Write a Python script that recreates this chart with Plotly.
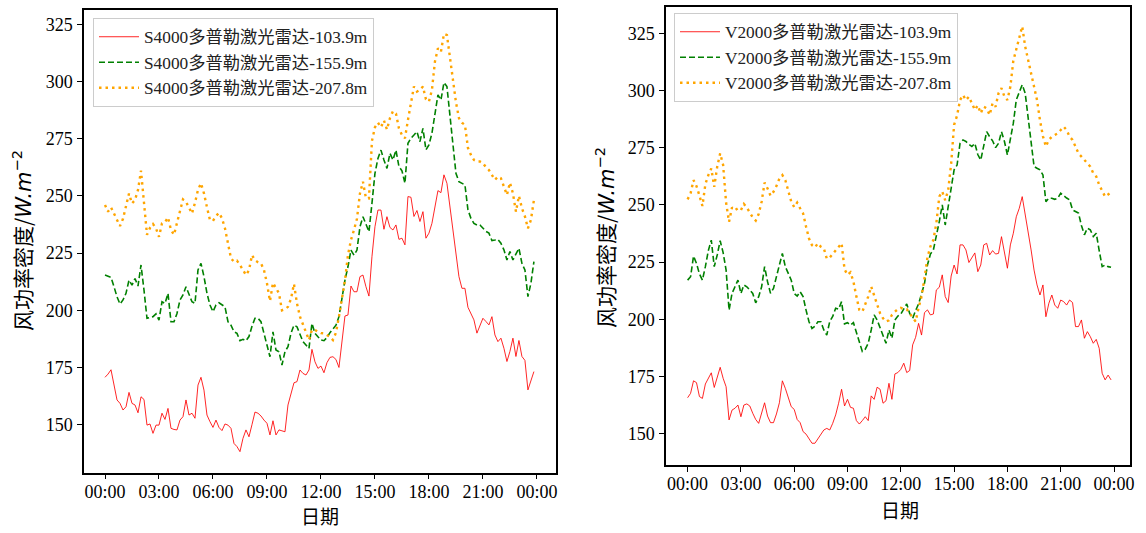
import plotly.graph_objects as go

# 10-minute samples over one day (hours)
hours = [i / 6 for i in range(144)]
tick_hours = [0, 3, 6, 9, 12, 15, 18, 21, 24]
tick_labels = ["00:00", "03:00", "06:00", "09:00", "12:00", "15:00", "18:00", "21:00", "00:00"]
y_ticks = [150, 175, 200, 225, 250, 275, 300, 325]

s4000_names = ["S4000多普勒激光雷达-103.9m", "S4000多普勒激光雷达-155.9m", "S4000多普勒激光雷达-207.8m"]
v2000_names = ["V2000多普勒激光雷达-103.9m", "V2000多普勒激光雷达-155.9m", "V2000多普勒激光雷达-207.8m"]

s4000_103 = [170.7, 172.1, 174.0, 166.6, 160.8, 159.3, 156.4, 157.8, 164.1, 159.3, 158.6, 155.2, 162.2, 161.0, 149.8, 150.3, 146.2, 149.8, 149.8, 155.0,
             152.3, 157.1, 148.4, 147.9, 147.7, 152.0, 153.5, 160.8, 154.2, 155.0, 152.8, 167.3, 170.7, 165.1, 154.2, 151.3, 148.8, 152.0, 148.8, 147.4,
             150.3, 149.8, 148.4, 141.8, 140.4, 138.2, 144.0, 147.7, 144.7, 150.0, 155.5, 155.0, 153.8, 152.0, 150.6, 145.5, 151.7, 145.5, 147.7, 147.3,
             146.9, 158.6, 164.0, 168.3, 168.8, 173.9, 172.4, 171.7, 173.9, 182.9, 177.5, 174.6, 175.6, 172.7, 177.1, 179.4, 179.7, 178.5, 175.0, 187.0,
             197.5, 197.9, 210.6, 208.1, 208.1, 214.7, 215.4, 210.3, 206.2, 223.4, 236.5, 243.8, 243.8, 235.4, 240.9, 236.2, 235.1, 237.3, 231.0, 231.5,
             228.6, 249.7, 249.4, 241.0, 243.6, 238.8, 243.1, 231.5, 233.7, 238.0, 245.3, 252.3, 251.4, 259.2, 255.5, 245.3, 235.1, 223.5, 214.7, 209.6,
             209.6, 201.3, 198.7, 195.8, 190.0, 192.9, 196.5, 195.1, 193.6, 197.2, 189.2, 186.3, 187.8, 183.4, 177.6, 182.0, 187.8, 179.8, 186.8, 179.8,
             178.1, 165.2, 169.6, 173.2]
s4000_156 = [215.4, 215.0, 214.4, 210.3, 205.9, 202.7, 204.5, 207.4, 213.2, 211.0, 213.9, 210.6, 219.8, 208.8, 196.5, 196.9, 197.2, 198.4, 195.7, 203.7,
             203.0, 207.4, 195.0, 195.0, 198.6, 204.5, 206.7, 210.3, 207.4, 203.7, 203.0, 217.6, 220.5, 214.7, 207.4, 202.3, 199.4, 202.3, 203.3, 202.3,
             201.5, 195.0, 193.5, 190.6, 189.9, 186.7, 187.3, 186.7, 188.5, 193.0, 196.5, 196.5, 195.0, 189.9, 184.1, 179.7, 190.6, 182.6, 181.9, 176.1,
             181.9, 184.1, 189.9, 193.5, 192.8, 189.9, 186.3, 184.8, 183.3, 194.3, 189.9, 188.4, 187.0, 186.7, 188.1, 190.2, 192.1, 193.5, 197.2, 205.2,
             213.2, 219.0, 226.3, 224.1, 226.3, 236.5, 240.9, 237.7, 234.3, 246.7, 259.8, 266.4, 270.0, 265.7, 262.0, 268.6, 265.7, 270.0, 262.8, 261.0,
             255.5, 273.0, 275.2, 276.6, 278.1, 273.7, 279.5, 270.1, 272.3, 277.4, 286.1, 294.1, 291.9, 299.5, 297.8, 286.1, 273.0, 259.9, 256.2, 255.5,
             254.8, 243.9, 240.2, 238.0, 237.3, 237.3, 235.8, 234.5, 233.7, 230.5, 230.7, 231.0, 229.3, 226.4, 222.0, 225.7, 222.0, 224.9, 227.1, 220.5,
             217.6, 206.0, 211.8, 221.3]
s4000_208 = [246.0, 243.1, 245.0, 242.1, 239.4, 236.8, 240.0, 246.0, 251.0, 246.7, 248.2, 252.6, 261.0, 247.0, 233.0, 236.0, 237.7, 235.8, 232.1, 238.0,
             238.5, 240.6, 235.1, 233.0, 238.0, 243.8, 248.5, 247.4, 244.5, 242.3, 247.0, 252.6, 255.5, 251.1, 245.0, 239.4, 239.1, 241.2, 242.6, 240.2,
             235.8, 229.0, 222.7, 221.2, 221.7, 219.8, 217.6, 215.4, 217.5, 224.1, 221.9, 221.0, 220.5, 217.6, 211.8, 204.0, 212.0, 209.6, 207.4, 200.0,
             200.5, 201.5, 205.0, 211.5, 203.0, 197.2, 193.5, 189.9, 187.0, 191.5, 191.4, 190.6, 190.0, 189.9, 189.2, 188.4, 187.0, 190.2, 197.2, 204.5,
             213.0, 224.1, 230.7, 235.1, 240.0, 251.1, 256.2, 249.0, 248.9, 274.0, 280.0, 282.0, 280.0, 283.0, 279.0, 284.0, 287.0, 286.0, 279.5, 276.6,
             275.2, 283.2, 290.0, 297.8, 295.6, 296.3, 297.8, 292.2, 291.2, 296.3, 308.7, 314.5, 313.0, 320.8, 320.3, 310.0, 300.7, 291.0, 284.0, 282.0,
             281.0, 271.0, 267.9, 265.7, 265.0, 265.0, 264.3, 262.5, 261.3, 259.0, 257.0, 258.4, 257.7, 254.0, 250.4, 255.8, 251.1, 243.1, 250.0, 244.6,
             241.0, 235.8, 239.5, 248.2]

v2000_103 = [165.7, 167.6, 173.1, 172.3, 166.2, 165.4, 171.7, 174.2, 176.6, 170.2, 175.2, 179.0, 174.2, 170.5, 156.0, 160.3, 161.1, 162.5, 157.4, 162.5,
             163.0, 162.1, 158.9, 156.2, 154.5, 158.9, 163.5, 157.7, 154.8, 154.8, 158.6, 163.5, 173.1, 169.8, 165.4, 161.8, 160.6, 156.2, 154.8, 150.9,
             149.8, 147.9, 145.8, 145.8, 147.9, 150.1, 151.6, 152.3, 151.6, 154.5, 158.2, 163.3, 169.4, 162.1, 165.0, 161.5, 161.1, 155.7, 154.2, 155.7,
             157.4, 155.7, 166.5, 165.0, 170.3, 169.4, 163.3, 164.4, 172.0, 165.0, 176.1, 176.7, 178.1, 180.8, 176.7, 177.6, 188.8, 192.1, 198.2, 193.1,
             202.9, 204.1, 201.9, 202.3, 212.8, 214.0, 219.4, 209.9, 207.3, 218.9, 223.7, 219.8, 232.5, 232.5, 230.3, 224.8, 227.1, 229.0, 220.8, 223.7,
             232.5, 233.2, 228.1, 230.0, 228.5, 228.8, 236.1, 229.1, 222.3, 232.5, 237.6, 244.8, 248.5, 253.6, 246.3, 239.0, 230.3, 221.5, 215.0, 210.6,
             215.0, 201.1, 207.0, 210.6, 206.2, 204.8, 208.4, 207.7, 206.2, 208.4, 207.3, 196.8, 196.8, 199.7, 191.7, 194.6, 192.4, 189.5, 191.2, 187.3,
             176.4, 173.5, 175.6, 173.5]
v2000_156 = [217.1, 218.6, 227.6, 224.4, 219.8, 217.1, 223.0, 230.0, 234.6, 223.0, 228.1, 234.3, 229.1, 221.5, 204.0, 211.3, 214.2, 217.1, 211.3, 215.0,
             214.2, 212.5, 211.3, 207.2, 209.9, 214.2, 223.0, 216.4, 211.3, 213.5, 218.6, 223.0, 228.8, 223.0, 220.1, 217.1, 211.3, 210.1, 212.0, 209.9,
             204.0, 198.9, 196.0, 197.0, 198.9, 198.9, 195.3, 193.1, 199.0, 201.2, 204.8, 204.4, 207.7, 198.0, 198.5, 197.5, 198.5, 193.9, 189.5, 185.9,
             186.9, 189.5, 195.3, 201.9, 199.7, 196.1, 192.4, 189.5, 195.3, 191.7, 199.7, 201.4, 202.3, 204.4, 206.7, 202.6, 200.4, 203.8, 206.7, 211.1,
             215.7, 223.7, 228.5, 230.3, 236.1, 242.7, 250.0, 241.2, 249.2, 258.0, 265.3, 267.4, 276.9, 278.4, 277.7, 276.5, 275.5, 276.9, 272.0, 269.6,
             275.5, 282.0, 279.8, 278.0, 275.0, 276.9, 282.0, 277.7, 271.8, 278.4, 285.7, 295.9, 299.5, 302.5, 298.8, 288.6, 278.4, 266.8, 266.0, 265.3,
             263.1, 251.4, 252.9, 252.9, 252.4, 252.9, 255.1, 253.9, 253.0, 252.2, 247.8, 247.1, 246.4, 241.0, 236.9, 239.8, 239.1, 236.2, 237.6, 230.0,
             223.0, 223.7, 223.0, 222.7]
v2000_208 = [252.4, 255.0, 260.8, 258.2, 254.0, 249.5, 259.0, 263.0, 265.9, 257.9, 266.7, 272.5, 267.4, 250.9, 242.6, 248.9, 247.7, 248.5, 247.7, 250.4,
             248.8, 246.3, 244.5, 243.1, 246.0, 251.4, 259.7, 257.2, 254.0, 255.7, 258.2, 261.5, 263.0, 260.8, 256.0, 251.4, 249.0, 251.0, 248.5, 246.3,
             240.5, 235.3, 232.4, 231.4, 233.2, 231.7, 231.0, 226.5, 227.0, 228.5, 230.3, 231.5, 233.2, 221.8, 219.4, 220.5, 216.5, 209.9, 204.1, 203.3,
             206.3, 209.9, 214.3, 210.6, 206.3, 202.6, 200.4, 199.0, 199.5, 201.9, 203.3, 204.4, 205.0, 204.4, 204.4, 202.6, 200.4, 199.0, 205.0, 209.9,
             218.0, 227.0, 231.8, 234.7, 242.0, 253.6, 255.8, 252.0, 256.5, 268.0, 285.0, 289.0, 295.8, 298.0, 295.8, 297.3, 294.4, 291.5, 293.5, 290.0,
             292.9, 292.2, 289.3, 294.4, 292.9, 298.8, 301.0, 297.3, 295.8, 301.7, 313.0, 318.0, 324.0, 328.0, 319.2, 313.3, 307.5, 301.7, 295.8, 287.0,
             280.0, 275.5, 278.4, 279.8, 280.5, 281.3, 282.7, 284.2, 282.7, 279.8, 278.4, 275.5, 272.5, 271.1, 269.6, 268.2, 266.7, 263.8, 262.4, 258.7,
             255.8, 253.6, 254.5, 255.4]

W, H = 1146, 533
styles = [
    dict(color="rgba(255,0,0,0.85)", width=1.0, dash="solid"),
    dict(color="#008000", width=1.6, dash="6px,3px"),
    dict(color="#FFA500", width=2.4, dash="2.5px,4px"),
]

fig = go.Figure()
for name, vals, st in zip(s4000_names, [s4000_103, s4000_156, s4000_208], styles):
    fig.add_trace(go.Scatter(x=hours, y=vals, mode="lines", name=name, line=st,
                             xaxis="x", yaxis="y", legend="legend"))
for name, vals, st in zip(v2000_names, [v2000_103, v2000_156, v2000_208], styles):
    fig.add_trace(go.Scatter(x=hours, y=vals, mode="lines", name=name, line=st,
                             xaxis="x2", yaxis="y2", legend="legend2"))

tickfont = dict(family="Liberation Serif, Times New Roman, serif", size=18, color="black")
common = dict(showline=True, linecolor="black", linewidth=1.5, mirror=True, showgrid=False,
              zeroline=False, ticks="outside", ticklen=5, tickwidth=1.2, tickcolor="black",
              tickfont=tickfont, automargin=False)

legend_font = dict(family="Liberation Serif, Noto Sans CJK SC", size=17.3, color="#222")
fig.update_layout(
    width=W, height=H,
    margin=dict(l=0, r=0, t=0, b=0, pad=0, autoexpand=False),
    paper_bgcolor="white", plot_bgcolor="white",
    showlegend=True,
    xaxis=dict(domain=[84 / W, 556 / W], range=[-1.167, 25.06], tickvals=tick_hours, ticktext=tick_labels,
               anchor="y", ticklabelstandoff=-3, **common),
    yaxis=dict(domain=[(H - 472.7) / H, (H - 10) / H], range=[129.0, 331.25], tickvals=y_ticks,
               anchor="x", ticklabelstandoff=1, **common),
    xaxis2=dict(domain=[666 / W, 1130 / W], range=[-1.216, 24.9], tickvals=tick_hours, ticktext=tick_labels,
                anchor="y2", ticklabelstandoff=-3, **common),
    yaxis2=dict(domain=[(H - 465) / H, (H - 6.5) / H], range=[136.3, 336.7], tickvals=y_ticks,
                anchor="x2", ticklabelstandoff=1, **common),
    legend=dict(x=93 / W, y=1 - 18 / H, xanchor="left", yanchor="top", bgcolor="white",
                bordercolor="#cccccc", borderwidth=1, font=legend_font, itemwidth=40),
    legend2=dict(x=674 / W, y=1 - 13 / H, xanchor="left", yanchor="top", bgcolor="white",
                 bordercolor="#cccccc", borderwidth=1, font=legend_font, itemwidth=40),
)

ylab = "风功率密度/<span style='font-family:DejaVu Sans'><i>W.m</i><sup>−2</sup></span>"
title_font = dict(family="Noto Sans CJK SC, Liberation Serif", size=21, color="black")
for (xt, yt) in [(320, 515), (900, 509)]:
    fig.add_annotation(text="日期", x=xt / W, y=1 - yt / H, xref="paper", yref="paper",
                       showarrow=False, font=dict(family="Noto Sans CJK SC", size=19, color="black"),
                       xanchor="center", yanchor="middle")
for (xt, yt) in [(22, 241), (605, 238)]:
    fig.add_annotation(text=ylab, x=xt / W, y=1 - yt / H, xref="paper", yref="paper",
                       showarrow=False, font=title_font, textangle=-90, xanchor="center", yanchor="middle")

fig.write_html("out.html", config={"displayModeBar": False},
               post_script="document.body.style.margin='0px';document.body.style.padding='0px';")
